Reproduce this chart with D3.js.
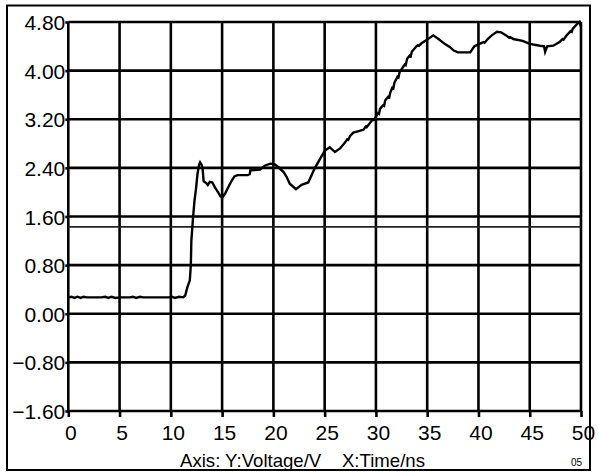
<!DOCTYPE html>
<html><head><meta charset="utf-8">
<script src="https://cdn.jsdelivr.net/npm/d3@7/dist/d3.min.js"></script>
<style>
html,body{margin:0;padding:0;background:#fff;}
svg{display:block;font-family:"Liberation Sans",Arial,sans-serif;}
</style></head>
<body>
<svg id="c" width="599" height="474"></svg>
<script>
// ---- data ----
const xTicks = [0,5,10,15,20,25,30,35,40,45,50];
const yTicks = [-1.6,-0.8,0,0.8,1.6,2.4,3.2,4.0,4.8];
const refLevel = [1.43];
const axisLabel = "Axis: Y:Voltage/V    X:Time/ns";
const cornerLabel = "05";
const time = [0.0,0.3,0.6,0.9,1.2,1.5,1.8,2.5,3.2,3.6,3.9,4.2,4.6,5.0,6.0,6.3,6.6,7.0,7.3,8.5,9.8,10.1,10.4,10.8,11.2,
  11.4,11.6,11.85,11.95,12.0,12.15,12.3,12.45,12.6,12.75,12.85,13.0,13.1,13.2,13.45,13.6,13.8,14.05,14.3,14.6,14.85,15.05,
  15.3,15.6,15.9,16.2,16.5,17.5,17.7,17.75,18.7,19.2,19.7,20.1,20.5,21.0,21.3,21.6,22.2,22.75,23.4,23.7,24.05,24.5,25.0,
  25.5,26.0,26.5,27.0,27.2,27.3,27.5,27.8,28.4,28.8,29.0,29.1,29.6,29.8,30.0,30.2,30.3,30.4,30.7,30.8,30.9,31.2,31.3,31.4,
  31.6,31.7,31.8,32.1,32.2,32.3,32.65,32.8,32.9,33.05,33.3,33.4,33.5,33.95,34.1,34.2,34.45,34.9,35.6,36.1,
  36.7,37.2,37.6,38.0,39.2,39.6,40.1,40.5,40.6,40.9,41.3,41.8,42.2,42.7,43.0,43.1,43.4,44.3,45.0,46.0,46.4,46.5,46.7,47.3,
  47.9,48.2,48.3,48.6,49.0,49.1,49.2,49.7,49.85,50.0];
const voltage = [0.27,0.28,0.26,0.28,0.26,0.28,0.27,0.27,0.27,0.28,0.26,0.28,0.26,0.27,0.27,0.28,0.26,0.28,0.27,0.27,0.27,0.28,0.26,0.28,0.27,
  0.30,0.43,0.55,0.8,1.2,1.55,1.85,2.05,2.3,2.45,2.49,2.45,2.38,2.18,2.15,2.12,2.17,2.16,2.08,2.0,1.93,1.92,
  1.98,2.08,2.18,2.26,2.28,2.28,2.3,2.36,2.37,2.44,2.47,2.46,2.41,2.33,2.25,2.14,2.05,2.12,2.16,2.27,2.40,2.53,2.68,
  2.74,2.66,2.72,2.82,2.87,2.86,2.93,2.98,3.01,3.03,3.08,3.07,3.18,3.19,3.24,3.30,3.29,3.37,3.43,3.42,3.51,3.57,3.56,3.64,
  3.72,3.71,3.80,3.90,3.89,3.97,4.06,4.10,4.09,4.20,4.25,4.24,4.31,4.40,4.42,4.41,4.45,4.50,4.58,4.52,
  4.44,4.39,4.33,4.30,4.30,4.40,4.44,4.47,4.46,4.52,4.58,4.64,4.63,4.58,4.54,4.55,4.52,4.49,4.44,4.41,4.40,4.31,4.40,4.41,
  4.47,4.52,4.51,4.58,4.65,4.64,4.69,4.78,4.80,4.72];

// ---- layout ----
const svg = d3.select("#c");
const L = 68.3, R = 581, T = 22, B = 411;
const x = d3.scaleLinear().domain([0,50]).range([L,R]);
const y = d3.scaleLinear().domain([-1.6,4.8]).range([B,T]);

// outer frame
svg.append("rect").attr("x",7).attr("y",5.5).attr("width",583).attr("height",464.5)
  .attr("fill","none").attr("stroke","#000").attr("stroke-width",2);

// grid
const g = svg.append("g");
g.selectAll("line.h").data(yTicks).join("line")
  .attr("x1",L).attr("x2",R).attr("y1",d=>y(d)).attr("y2",d=>y(d))
  .attr("stroke","#000").attr("stroke-width",2.6);
g.selectAll("line.v").data(xTicks).join("line")
  .attr("y1",T).attr("y2",B).attr("x1",d=>x(d)).attr("x2",d=>x(d))
  .attr("stroke","#000").attr("stroke-width",2.6);
g.selectAll("line.r").data(refLevel).join("line")
  .attr("x1",L).attr("x2",R).attr("y1",d=>y(d)).attr("y2",d=>y(d))
  .attr("stroke","#222").attr("stroke-width",1.8);

// axes
const xa = svg.append("g").attr("transform",`translate(0,${B})`)
  .call(d3.axisBottom(x).tickValues(xTicks).tickFormat(d3.format("d")).tickSize(6).tickPadding(8));
const ya = svg.append("g").attr("transform",`translate(${L},0)`)
  .call(d3.axisLeft(y).tickValues(yTicks).tickFormat(d3.format(".2f")).tickSize(3).tickPadding(0));
[xa,ya].forEach(a=>{
  a.select(".domain").remove();
  a.selectAll(".tick line").attr("stroke","#000").attr("stroke-width",2.6);
  a.selectAll("text").attr("fill","#000").style("font-size","21px").style("font-family","'Liberation Sans',Arial,sans-serif");
});
ya.selectAll("text").attr("dy","0.36em");
xa.selectAll("text").attr("dx","2");

// curve
svg.append("path")
  .datum(time.map((t,i)=>[t,voltage[i]]))
  .attr("fill","none").attr("stroke","#000").attr("stroke-width",2.4)
  .attr("stroke-linejoin","miter")
  .attr("d",d3.line().x(d=>x(d[0])).y(d=>y(d[1])));

// labels
svg.append("text").attr("x",180).attr("y",467).attr("font-size",18.6).attr("fill","#000")
  .attr("xml:space","preserve").style("white-space","pre").text(axisLabel);
svg.append("text").attr("x",571).attr("y",466).attr("font-size",10).attr("fill","#000").text(cornerLabel);
</script>
</body></html>
